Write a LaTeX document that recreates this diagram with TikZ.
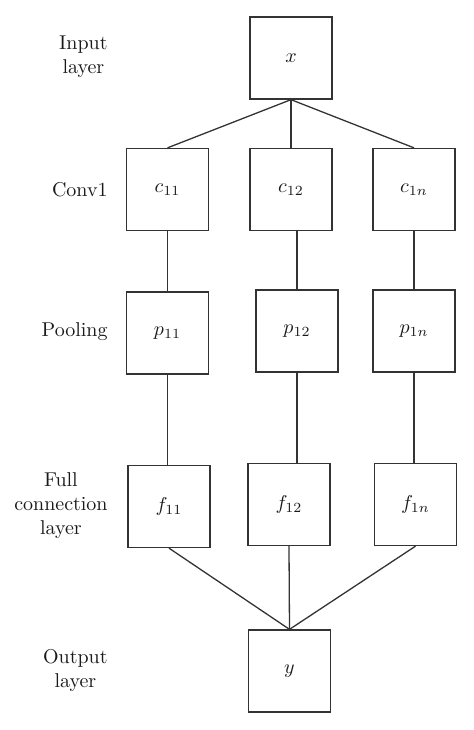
\documentclass[tikz,border=0pt]{standalone}
\begin{document}
\begin{tikzpicture}[x=0.5pt,y=-0.5pt,
    unit/.style={draw=black!80,line width=0.65pt,minimum width=41pt,minimum height=41pt,inner sep=0pt,text=black!90},
    lbl/.style={anchor=east,align=center,inner sep=0pt,text=black!90},
    wire/.style={draw=black!80,line width=0.65pt}]
  \useasboundingbox (0,0) rectangle (474,730);
  % input layer
  \node[unit] (x) at (291,58) {$x$};
  \node[lbl] (tin) at (108,57) {Input\\layer};
  % conv1
  \node[unit] (c11) at (167.5,189.5) {$c_{11}$};
  \node[unit] (c12) at (291,189.5) {$c_{12}$};
  \node[unit] (c1n) at (414,189.5) {$c_{1n}$};
  \node[lbl] (tconv) at (108,190) {Conv1};
  % pooling
  \node[unit] (p11) at (167.5,333) {$p_{11}$};
  \node[unit] (p12) at (297,331) {$p_{12}$};
  \node[unit] (p1n) at (414,331) {$p_{1n}$};
  \node[lbl] (tpool) at (108,332) {Pooling};
  % full connection layer
  \node[unit] (f11) at (169,506.5) {$f_{11}$};
  \node[unit] (f12) at (289,504.5) {$f_{12}$};
  \node[unit] (f1n) at (415.5,504.5) {$f_{1n}$};
  \node[lbl] (tfull) at (108,506) {Full\\connection\\layer};
  % output layer
  \node[unit] (y) at (289.5,671) {$y$};
  \node[lbl] (tout) at (108,670) {Output\\layer};
  % wires
  \foreach \k in {11,12,1n} {
    \draw[wire] (x.south) -- (c\k.north);
    \draw[wire] (c\k.south -| p\k.north) -- (p\k.north);
    \draw[wire] (p\k.south) -- (p\k.south |- f\k.north);
    \draw[wire] (f\k.south) -- (y.north);
  }
\end{tikzpicture}
\end{document}
